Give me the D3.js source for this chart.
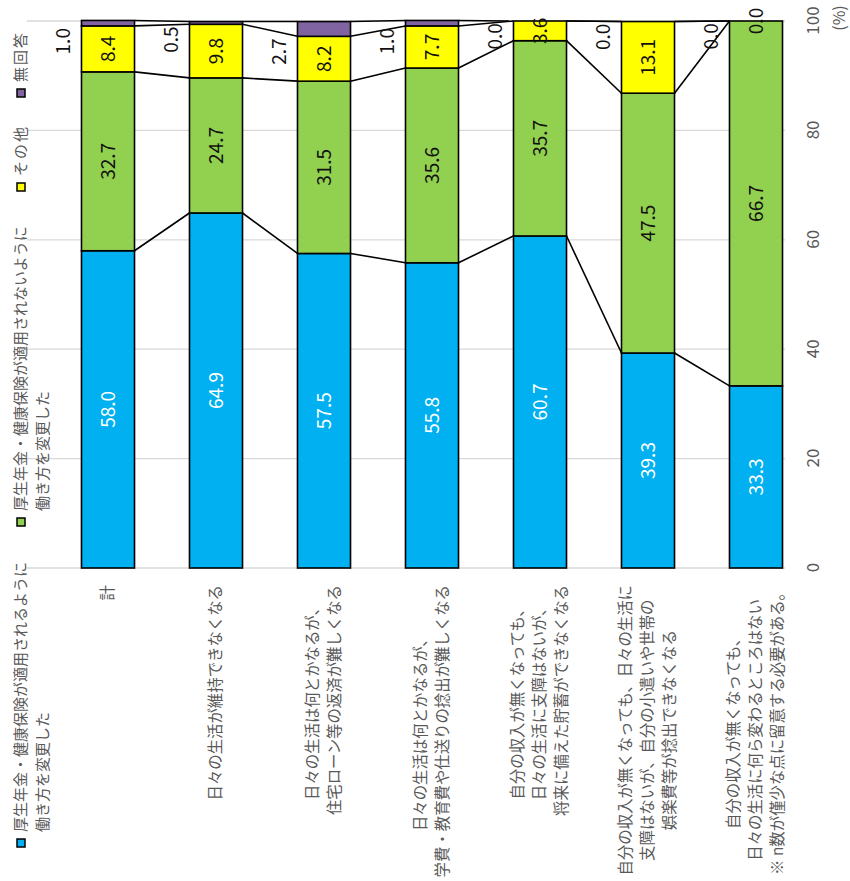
<!DOCTYPE html>
<html><head><meta charset="utf-8">
<script src="https://cdn.jsdelivr.net/npm/d3@7/dist/d3.min.js"></script>
<style>body{margin:0;background:#fff}svg{display:block}</style>
</head><body>
<svg id="chart" width="850" height="881"></svg>
<script>
// ---- data ----
const categories = ["計","維持","住宅ローン","学費","貯蓄","小遣い","変わらない"];
const categoryLines = [
  ["計"],
  ["日々の生活が維持できなくなる"],
  ["日々の生活は何とかなるが、","住宅ローン等の返済が難しくなる"],
  ["日々の生活は何とかなるが、","学費・教育費や仕送りの捻出が難しくなる"],
  ["自分の収入が無くなっても、","日々の生活に支障はないが、","将来に備えた貯蓄ができなくなる"],
  ["自分の収入が無くなっても、日々の生活に","支障はないが、自分の小遣いや世帯の","娯楽費等が捻出できなくなる"],
  ["自分の収入が無くなっても、","日々の生活に何ら変わるところはない","※ n数が僅少な点に留意する必要がある。"]
];
const seriesKeys = ["s1","s2","s3","s4"];
const seriesNames = [
  ["厚生年金・健康保険が適用されるように","働き方を変更した"],
  ["厚生年金・健康保険が適用されないように","働き方を変更した"],
  ["その他"],
  ["無回答"]
];
const s1 = [58.0,64.9,57.5,55.8,60.7,39.3,33.3];
const s2 = [32.7,24.7,31.5,35.6,35.7,47.5,66.7];
const s3 = [8.4,9.8,8.2,7.7,3.6,13.1,0.0];
const s4 = [1.0,0.5,2.7,1.0,0.0,0.0,0.0];
const tickValues = [0,20,40,60,80,100];
const colors = ["#00B0F0","#92D050","#FFFF00","#8064A2"];

// ---- build ----
const table = categories.map((c,i)=>({cat:c,s1:s1[i],s2:s2[i],s3:s3[i],s4:s4[i]}));
const stacked = d3.stack().keys(seriesKeys)(table);

const FONT = "'Noto Sans CJK JP','Noto Sans',sans-serif";
const svg = d3.select("#chart");
// chart drawn horizontally in local coords, then rotated -90deg
const g = svg.append("g").attr("transform","translate(0,881) rotate(-90)");

const x = d3.scaleLinear().domain([0,100]).range([313,860]);
const y = d3.scaleBand().domain(categories).range([54,810]).paddingInner(0.509).paddingOuter(0.2545);
const bw = y.bandwidth();

// gridlines
g.append("g").selectAll("line").data(tickValues).join("line")
  .attr("x1",d=>x(d)).attr("x2",d=>x(d)).attr("y1",27).attr("y2",785)
  .attr("stroke","#D9D9D9").attr("stroke-width",1.3);

// value axis labels
const axG = g.append("g").attr("transform","translate(0,813)")
  .call(d3.axisBottom(x).tickValues(tickValues).tickSize(0).tickPadding(0));
axG.select(".domain").remove();
axG.selectAll("text").attr("y",0).attr("dy","0.35em")
  .attr("font-family",FONT).attr("font-size",17).attr("fill","#595959");
g.append("text").attr("x",863).attr("y",839).attr("dy","0.35em").attr("text-anchor","middle")
  .attr("font-family",FONT).attr("font-size",16).attr("fill","#595959").text("(%)");

// connector lines
const conn = g.append("g");
stacked.forEach(layer=>{
  for(let i=0;i<categories.length-1;i++){
    conn.append("line")
      .attr("x1",x(layer[i][1])).attr("y1",y(categories[i])+bw)
      .attr("x2",x(layer[i+1][1])).attr("y2",y(categories[i+1]))
      .attr("stroke","#000").attr("stroke-width",1.6);
  }
});

// bars
stacked.forEach((layer,k)=>{
  g.append("g").selectAll("rect").data(layer).join("rect")
    .attr("x",d=>x(d[0])).attr("width",d=>Math.max(0,x(d[1])-x(d[0])))
    .attr("y",d=>y(d.data.cat)).attr("height",bw)
    .attr("fill",colors[k]).attr("stroke","#000").attr("stroke-width",1.6);
});

// value labels inside (first three series)
stacked.slice(0,3).forEach((layer,k)=>{
  g.append("g").selectAll("text").data(layer).join("text")
    .attr("x",d=>x((d[0]+d[1])/2)).attr("y",d=>y(d.data.cat)+bw/2).attr("dy","0.35em")
    .attr("text-anchor","middle").attr("font-family",FONT).attr("font-size",19)
    .attr("fill",k===0?"#fff":"#111")
    .text(d=>d3.format(".1f")(d[1]-d[0]));
});
// 無回答 labels outside (above bar in local coords)
g.append("g").selectAll("text").data(stacked[3]).join("text")
  .attr("x",d=>x(d[0]-2.8)).attr("y",d=>y(d.data.cat)-18).attr("dy","0.35em")
  .attr("text-anchor","middle").attr("font-family",FONT).attr("font-size",19).attr("fill","#111")
  .text(d=>d3.format(".1f")(d[1]-d[0]));

// category labels (block right-aligned at axis, lines centred within block)
categories.forEach((c,i)=>{
  const lines = categoryLines[i];
  const cg = g.append("g").attr("transform",`translate(296,${y(c)+bw/2})`);
  const ts = lines.map((t,j)=>cg.append("text")
    .attr("y",(j-(lines.length-1)/2)*22).attr("dy","0.35em")
    .attr("text-anchor","middle").attr("font-family",FONT).attr("font-size",15.4)
    .attr("fill","#595959").text(t));
  const maxW = d3.max(ts,t=>t.node().getComputedTextLength());
  ts.forEach(t=>t.attr("x",-maxW/2));
});

// legend
const legendU = [38,359,694,788];
seriesNames.forEach((lines,k)=>{
  const lg = g.append("g").attr("transform",`translate(${legendU[k]},21)`);
  lg.append("rect").attr("x",-4).attr("y",-4).attr("width",8).attr("height",8)
    .attr("fill",colors[k]).attr("stroke","#000").attr("stroke-width",1.5);
  lines.forEach((t,j)=>lg.append("text").attr("x",11).attr("y",j*22).attr("dy","0.35em")
    .attr("font-family",FONT).attr("font-size",15).attr("letter-spacing",k>=2?2:0)
    .attr("fill","#595959").text(t));
});
</script>
</body></html>
